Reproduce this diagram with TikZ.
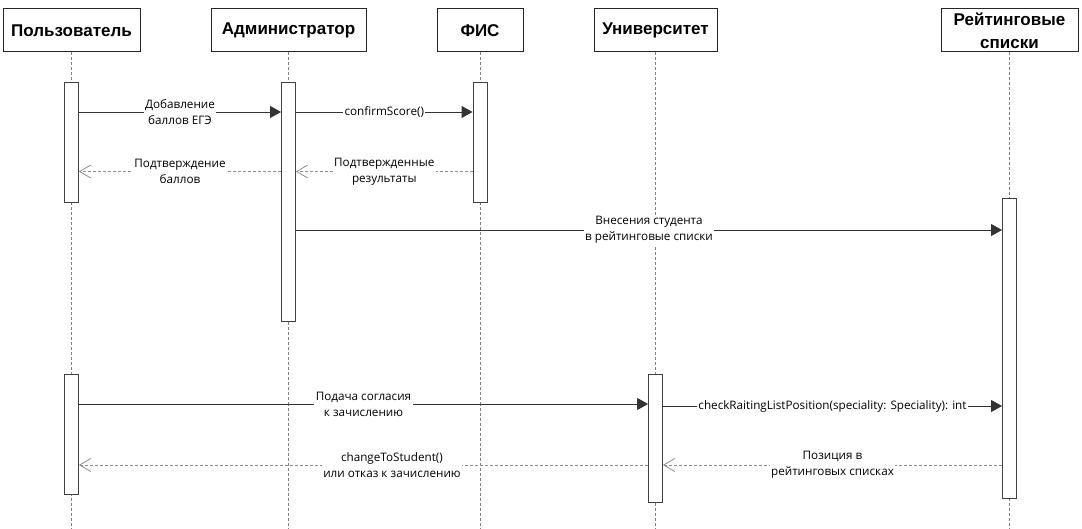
\documentclass[tikz,border=0pt]{standalone}
\usepackage{fontspec}
\setmainfont{Open Sans}
\newfontfamily\headfont{Liberation Sans}
\usetikzlibrary{arrows.meta,positioning}

\begin{document}
\begin{tikzpicture}[
    x=1pt, y={(0pt,-1pt)},
    actor/.style={rectangle, draw=black!85, line width=1pt, minimum height=43pt, inner xsep=2pt, inner ysep=1pt, align=center, font=\headfont\bfseries\fontsize{17}{23}\selectfont},
    act/.style={rectangle, draw=black!75, line width=0.9pt, fill=white, minimum width=14pt, inner sep=0pt},
    life/.style={draw=black!50, line width=0.8pt, dash pattern=on 3pt off 2pt},
    call/.style={draw=black!80, line width=0.9pt, -{Triangle[length=11pt,width=12pt]}},
    reply/.style={draw=black!45, line width=0.8pt, dash pattern=on 3pt off 2pt, -{Straight Barb[length=11pt,width=13pt]}},
    lbl/.style={fill=white, inner sep=1.5pt, align=center, text=black, font=\fontsize{11.7}{16}\selectfont}
]
\useasboundingbox (0,0) rectangle (1082,529);

% Actors
\node (user) [actor, minimum width=137pt] at (71.5,30.5) {Пользователь};
\node (admin) [actor, minimum width=155pt, right=70pt of user] {Администратор};
\node (fis) [actor, minimum width=86pt, right=70pt of admin] {ФИС};
\node (univ) [actor, minimum width=123pt, right=70pt of fis] {Университет};
\node (lists) [actor, minimum width=137pt] at (1009.5,30.5) {Рейтинговые\\списки};

% Lifelines
\coordinate (bottom) at (0,529);
\foreach \who in {user,admin,fis,univ,lists}
  \draw [life] (\who) -- (\who |- bottom);

% Activation bars
\node (userAct1) [act, below=30pt of user, minimum height=120pt] {};
\node (adminAct) [act, below=30pt of admin, minimum height=239pt] {};
\node (fisAct) [act, below=30pt of fis, minimum height=120pt] {};
\node (listsAct) [act, below=146pt of lists, minimum height=299pt] {};
\node (userAct2) [act, below=322pt of user, minimum height=119pt] {};
\node (univAct) [act, below=322pt of univ, minimum height=127pt] {};

% Message levels
\coordinate (m1) at (0,112);
\coordinate (m2) at (0,171.5);
\coordinate (m3) at (0,230);
\coordinate (m4) at (0,404);
\coordinate (m5) at (0,406);
\coordinate (m6) at (0,465);

% Messages
\draw [call] (userAct1.east |- m1) -- node[lbl] {Добавление\\баллов ЕГЭ} (adminAct.west |- m1);
\draw [call] (adminAct.east |- m1) -- node[lbl] {confirmScore()} (fisAct.west |- m1);
\draw [reply] (fisAct.west |- m2) -- node[lbl] {Подтвержденные\\результаты} (adminAct.east |- m2);
\draw [reply] (adminAct.west |- m2) -- node[lbl] {Подтверждение\\баллов} (userAct1.east |- m2);
\draw [call] (adminAct.east |- m3) -- node[lbl] {Внесения студента\\в рейтинговые списки} (listsAct.west |- m3);
\draw [call] (userAct2.east |- m4) -- node[lbl] {Подача согласия\\к зачислению} (univAct.west |- m4);
\draw [call] (univAct.east |- m5) -- node[lbl] {checkRaitingListPosition(speciality: Speciality): int} (listsAct.west |- m5);
\draw [reply] (listsAct.west |- m6) -- node[lbl] {Позиция в\\рейтинговых списках} (univAct.east |- m6);
\draw [reply] (univAct.west |- m6) -- node[lbl, pos=0.45] {changeToStudent()\\или отказ к зачислению} (userAct2.east |- m6);

\end{tikzpicture}
\end{document}
